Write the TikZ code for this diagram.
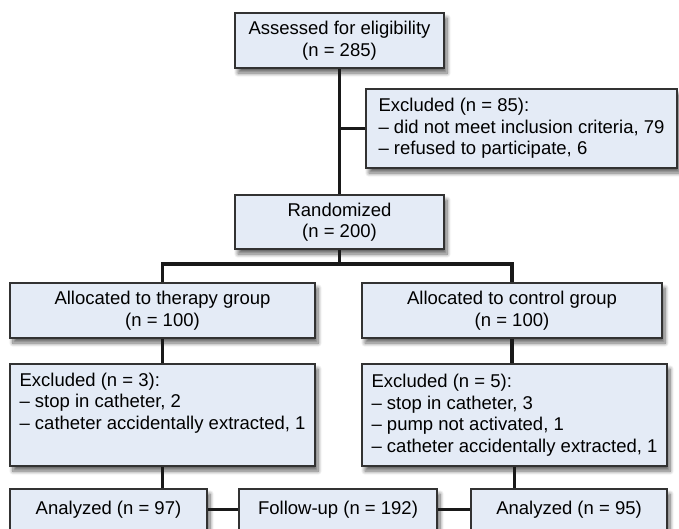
\documentclass[tikz,border=0pt]{standalone}
\usepackage{fontspec}
\setmainfont{Liberation Sans}
\usetikzlibrary{shadows.blur}
\definecolor{boxfill}{RGB}{228,235,246}
\definecolor{boxline}{RGB}{50,50,50}
\definecolor{linkcol}{RGB}{25,25,25}
\tikzset{
  box/.style={draw=boxline, line width=2pt, fill=boxfill, align=center, inner sep=0pt,
    blur shadow={shadow xshift=3pt, shadow yshift=-5pt, shadow blur radius=4pt, shadow blur steps=8, shadow opacity=60}},
  listbox/.style={box, align=left},
  link/.style={draw=linkcol, line width=3.5pt}
}

\begin{document}
\begin{tikzpicture}[x=1pt, y=-1pt, font=\fontsize{18.5}{21.5}\selectfont]
    \useasboundingbox (0,0) rectangle (679,528);

    \node[box, minimum width=209pt, minimum height=55pt] (assess) at (339.5,40.5) {Assessed for eligibility\\(n = 285)};
    \node[listbox, minimum width=311pt, minimum height=79pt] (excl) at (521.5,128.5) {Excluded (n = 85):\\– did not meet inclusion criteria, 79\\– refused to participate, 6};
    \node[box, minimum width=209pt, minimum height=54pt] (rand) at (339.5,222) {Randomized\\(n = 200)};

    \node[box, minimum width=305pt, minimum height=55pt] (ther) at (162.5,310.5) {Allocated to therapy group\\(n = 100)};
    \node[box, minimum width=300pt, minimum height=55pt] (ctrl) at (512,310.5) {Allocated to control group\\(n = 100)};

    \node[listbox, minimum width=305pt, minimum height=102pt] (exther) at (162.5,415) {Excluded (n = 3):\\– stop in catheter, 2\\– catheter accidentally extracted, 1\\ \strut};
    \node[listbox, minimum width=305pt, minimum height=102pt] (exctrl) at (514.5,415) {Excluded (n = 5):\\– stop in catheter, 3\\– pump not activated, 1\\– catheter accidentally extracted, 1};

    \node[box, minimum width=197pt, minimum height=41pt] (anther) at (108.5,509.5) {Analyzed (n = 97)};
    \node[box, minimum width=198pt, minimum height=41pt] (follow) at (338,509.5) {Follow-up (n = 192)};
    \node[box, minimum width=196pt, minimum height=41pt] (anctrl) at (569,509.5) {Analyzed (n = 95)};

    \coordinate (branch) at (assess.south |- excl.west);
    \coordinate (split) at (339.5,264);

    \draw[link] (assess) -- (rand);
    \draw[link] (branch) -- (excl.west);
    \draw[link] (rand) -- (split);
    \draw[link] (ther.north) |- (split) -| (ctrl.north);

    \draw[link] (ther) -- (exther);
    \draw[link] (ctrl.south) -- (ctrl.south |- exctrl.north);
    \draw[link] (exther.south) -- (exther.south |- anther.north);
    \draw[link] (exctrl.south) -- (exctrl.south |- anctrl.north);

    \draw[link] (anther) -- (follow);
    \draw[link] (follow) -- (anctrl);
\end{tikzpicture}
\end{document}
